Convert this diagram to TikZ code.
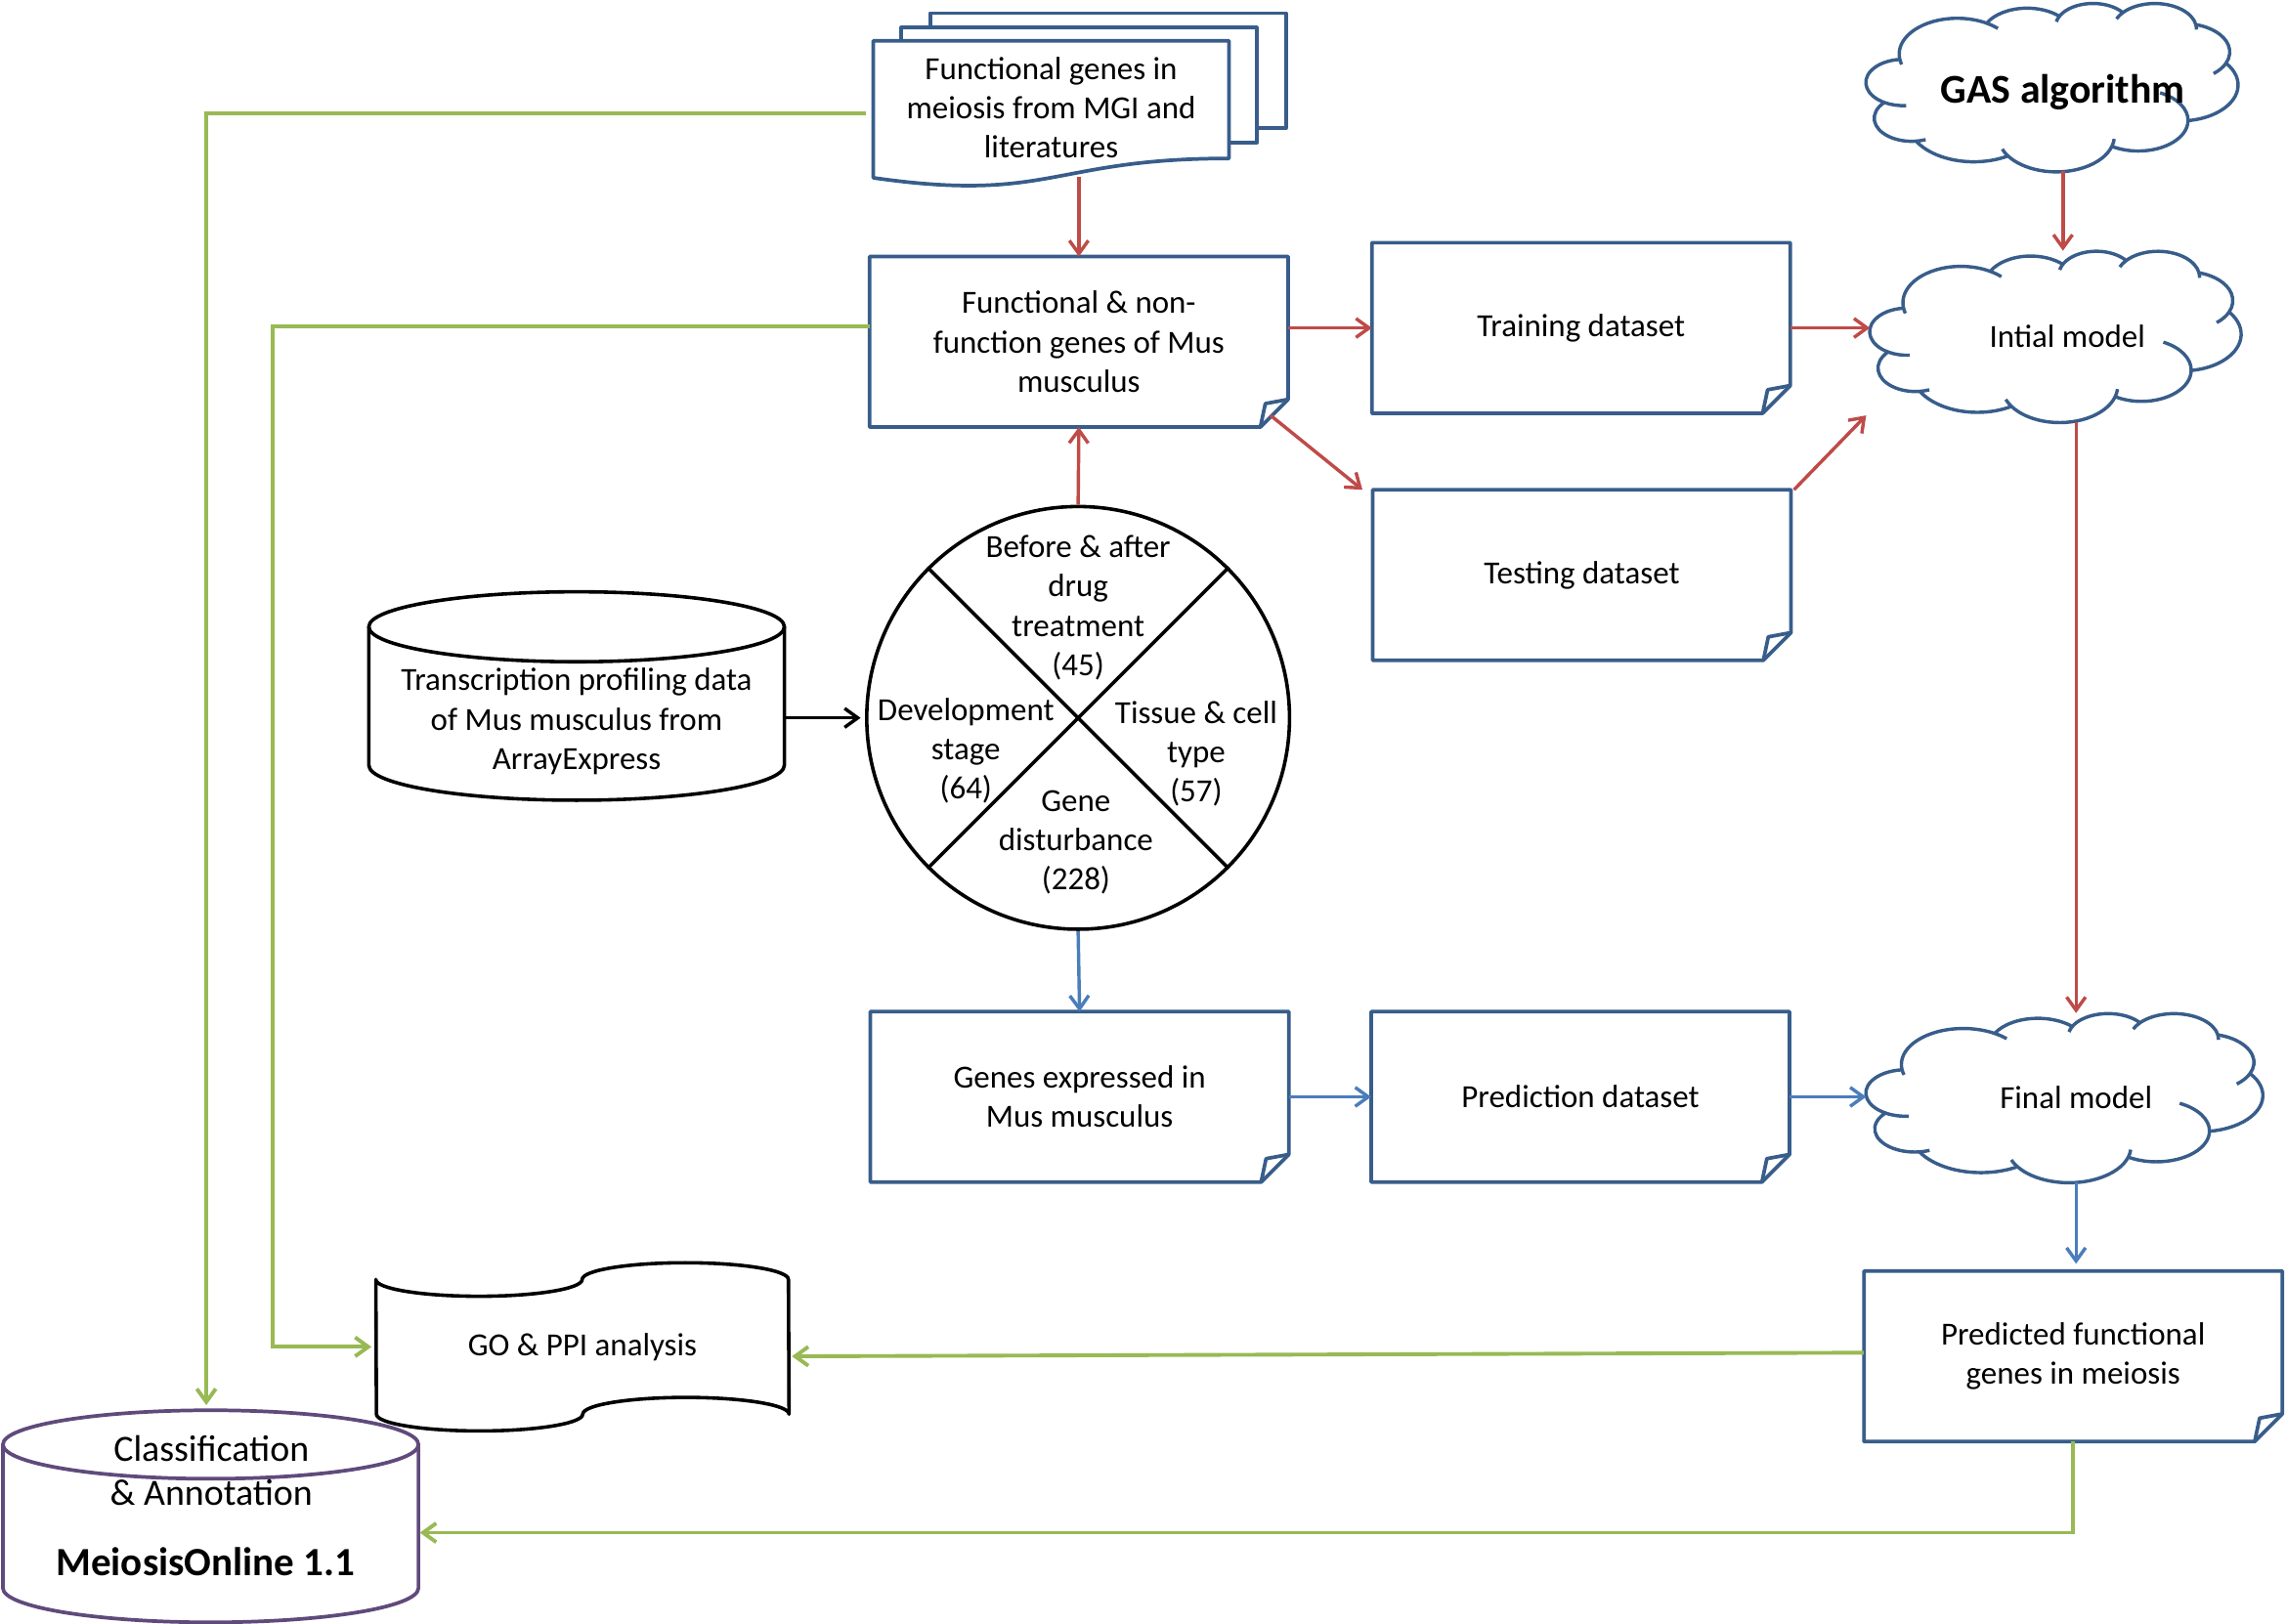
\documentclass[tikz,border=0pt]{standalone}
\usepackage{fontspec}
\setmainfont{Carlito}
\usetikzlibrary{arrows.meta}
\definecolor{boxblue}{HTML}{385D8A}
\definecolor{rline}{HTML}{BE4B48}
\definecolor{bline}{HTML}{4A7EBB}
\definecolor{gline}{HTML}{98B954}
\definecolor{pline}{HTML}{604A7B}
\newcommand{\fs}{\fontsize{22.1}{27}\selectfont}
\newcommand{\pptcloud}[5]{%
 \pgfmathsetmacro{\cloudsx}{#3/432}%
 \pgfmathsetmacro{\cloudsy}{#4/432}%
 \begin{scope}[shift={(#1,#2)}, x=\cloudsx pt, y=-\cloudsy pt]
  \draw[#5] (39.00,143.70)
   arc[start angle=-187.747, delta angle=128.117, x radius=67.53, y radius=91.90]
   arc[start angle=-152.030, delta angle=106.583, x radius=53.33, y radius=72.67]
   arc[start angle=-153.497, delta angle=116.179, x radius=43.65, y radius=59.45]
   arc[start angle=-139.721, delta angle=129.509, x radius=48.57, y radius=65.95]
   arc[start angle=-74.767, delta angle=97.980, x radius=53.33, y radius=72.73]
   arc[start angle=-37.513, delta angle=119.375, x radius=67.75, y radius=92.20]
   arc[start angle=0.460, delta angle=121.518, x radius=57.85, y radius=78.67]
   arc[start angle=16.843, delta angle=129.372, x radius=67.52, y radius=92.15]
   arc[start angle=58.985, delta angle=91.200, x radius=77.20, y radius=105.43]
   arc[start angle=83.306, delta angle=139.808, x radius=43.60, y radius=59.18]
   arc[start angle=120.360, delta angle=143.752, x radius=43.45, y radius=59.45]
   -- cycle;
  \draw[#5] (46.49,263.47) arc[start angle=85.546, delta angle=34.814, x radius=43.45, y radius=59.45]
   (69.15,350.90) arc[start angle=68.234, delta angle=15.072, x radius=43.60, y radius=59.18]
   (164.83,392.66) arc[start angle=146.215, delta angle=12.257, x radius=67.52, y radius=92.15]
   (288.24,349.03) arc[start angle=4.738, delta angle=12.105, x radius=67.52, y radius=92.15]
   (341.55,230.66) arc[start angle=-64.028, delta angle=64.488, x radius=57.85, y radius=78.67]
   (418.21,154.60) arc[start angle=23.213, delta angle=26.423, x radius=53.33, y radius=72.73]
   (383.21,55.76) arc[start angle=-10.212, delta angle=11.033, x radius=48.57, y radius=65.95]
   (290.94,40.92) arc[start angle=-156.278, delta angle=16.557, x radius=48.57, y radius=65.95]
   (220.99,48.20) arc[start angle=-167.726, delta angle=14.229, x radius=43.65, y radius=59.45]
   (140.06,52.03) arc[start angle=-59.630, delta angle=13.891, x radius=67.53, y radius=91.90]
   (41.27,157.89) arc[start angle=163.194, delta angle=9.059, x radius=67.53, y radius=91.90];
 \end{scope}}
\tikzset{
  txt/.style={font=\fs, align=center, inner sep=0pt},
  notebox/.style={txt, minimum width=287pt, minimum height=117pt, outer sep=0pt},
  frame/.style={inner sep=0pt, outer sep=0pt},
  outl/.style={draw=boxblue, line width=2.5pt, line join=round},
  cl/.style={draw=boxblue, line width=2.3pt, line join=round},
  kline/.style={draw=black, line width=2.4pt, line join=round},
  pl/.style={draw=pline, line width=2.5pt, line join=round},
  arrbase/.style={line width=2.3pt, -{Straight Barb[length=9pt,width=13pt]}},
  rarr/.style={arrbase, draw=rline},
  barr/.style={arrbase, draw=bline},
  garr/.style={arrbase, draw=gline, line width=2.6pt},
  karr/.style={arrbase, draw=black},
}
\begin{document}
\begin{tikzpicture}[x=1pt, y=-1pt]
\useasboundingbox (0,0) rectangle (1568,1114);

% document stack
\draw[outl, fill=white] (638,9) rectangle (882,88);
\draw[outl, fill=white] (618,19) rectangle (862,98);
\draw[outl, fill=white] (599,28) -- (843,28) -- (843,108.7)
  .. controls (721,108.7) and (721,139.4) .. (599,122) -- cycle;
\node[txt, minimum width=244pt, minimum height=94pt] (doc) at (721,74) {Functional genes in\\meiosis from MGI and\\literatures};

% note boxes
\node[notebox] (fn) at (740,234.5) {Functional \& non-\\function genes of Mus\\musculus};
\node[notebox] (train) at (1084.5,225) {Training dataset};
\node[notebox] (test) at (1085,394.5) {Testing dataset};
\node[notebox] (gexp) at (740.5,752.5) {Genes expressed in\\Mus musculus};
\node[notebox] (pred) at (1084,752.5) {Prediction dataset};
\node[notebox] (pfg) at (1422,930.5) {Predicted functional\\genes in meiosis};
\foreach \n in {fn,train,test,gexp,pred,pfg}{
  \draw[outl] (\n.north west) -- (\n.north east) -- ([yshift=19pt]\n.south east)
     -- ([xshift=-19pt]\n.south east) -- (\n.south west) -- cycle;
  \draw[outl] ([yshift=19pt]\n.south east) -- ([xshift=-15.6pt,yshift=16.1pt]\n.south east)
     .. controls ([xshift=-17.8pt,yshift=8pt]\n.south east) .. ([xshift=-19pt]\n.south east);
}

% circle
\node[circle, draw=black, line width=2.4pt, minimum size=290pt, inner sep=0pt] (circ) at (739.5,492.5) {};
\draw[kline] (circ.135) -- (circ.-45) (circ.45) -- (circ.225);
\node[txt] (c1) at (739.5,417) {Before \& after\\drug\\treatment\\(45)};
\node[txt] (c2) at (662.5,515) {Development\\stage\\(64)};
\node[txt] (c3) at (820.5,517) {Tissue \& cell\\type\\(57)};
\node[txt] (c4) at (738,578) {Gene\\disturbance\\(228)};

% transcription cylinder
\node[txt, minimum width=285pt] (tr) at (395.5,495) {Transcription profiling data\\of Mus musculus from\\ArrayExpress};
\draw[kline] (253,430) -- (253,525) arc[start angle=180, end angle=360, x radius=142.5pt, y radius=24pt] -- (538,430);
\draw[kline] (395.5,430) ellipse[x radius=142.5pt, y radius=24pt];

% GO & PPI punched tape
\node[txt, minimum width=283pt, minimum height=92pt] (go) at (399.5,924) {GO \& PPI analysis};
\draw[kline] (go.north west)
  arc[start angle=180, end angle=360, x radius=70.75pt, y radius=11.5pt]
  arc[start angle=180, end angle=0, x radius=70.75pt, y radius=11.5pt]
  -- (go.south east)
  arc[start angle=0, end angle=180, x radius=70.75pt, y radius=11.5pt]
  arc[start angle=0, end angle=-180, x radius=70.75pt, y radius=11.5pt]
  -- cycle;

% MeiosisOnline cylinder
\node[frame, minimum width=285pt, minimum height=146pt] (mo) at (144.5,1040) {};
\draw[pl] (2,991) -- (2,1089.5) arc[start angle=180, end angle=360, x radius=142.5pt, y radius=23.5pt] -- (287,991);
\draw[pl] (144.5,991) ellipse[x radius=142.5pt, y radius=23.5pt];
\node[txt, font=\fontsize{25.4}{30.5}\selectfont] (motx) at (145,1009) {Classification\\\& Annotation};
\node[inner sep=0pt, font=\bfseries\fontsize{27.5}{33}\selectfont] (mobd) at (141,1071.5) {MeiosisOnline 1.1};

% clouds
\pptcloud{1280}{2}{255}{115.5}{cl}
\pptcloud{1282.6}{172}{254.5}{117.5}{cl}
\pptcloud{1280}{695}{272}{116}{cl}
\node[frame, minimum width=255pt, minimum height=115.5pt] (gas) at (1407.5,59.75) {};
\node[frame, minimum width=254.5pt, minimum height=117.5pt] (init) at (1409.85,230.75) {};
\node[frame, minimum width=272pt, minimum height=116pt] (final) at (1416,753) {};
\node[inner sep=0pt, font=\bfseries\fontsize{28}{34}\selectfont] (gastx) at (1415,63) {GAS algorithm};
\node[txt] (inittx) at (1418,231) {Intial model};
\node[txt] (finaltx) at (1424,753) {Final model};
\coordinate (initin) at (1280,285);

% red connectors
\draw[rarr] (doc.south -| fn.north) -- (fn.north);
\draw[rarr] (fn.east |- train.west) -- (train.west);
\draw[rarr] ([xshift=-12pt,yshift=8pt]fn.south east) -- ([xshift=-7pt]test.north west);
\draw[rarr] (train.east) -- (train.east -| init.west);
\draw[rarr] ([xshift=2pt]test.north east) -- (initin);
\draw[rarr] (gas.south -| gastx) -- (init.north -| gastx);
\draw[rarr] (init.south -| finaltx) -- (final.north -| finaltx);
\draw[rarr] (circ.north) -- (fn.south);

% blue connectors
\draw[barr] (circ.south) -- (gexp.north);
\draw[barr] (gexp.east) -- (pred.west);
\draw[barr] (pred.east) -- (pred.east -| final.west);
\draw[barr, shorten >=5pt] (final.south -| finaltx) -- (pfg.north -| finaltx);

% black connector
\draw[karr, shorten >=3pt] (tr.east |- circ.west) -- (circ.west);

% green connectors
\draw[garr, shorten >=3pt] ([xshift=-5pt,yshift=-4pt]doc.west) -| ([xshift=-3pt]mo.north);
\draw[garr, shorten >=3pt] ([yshift=10.5pt]fn.west) -| ([xshift=-71pt]go.west) -- (go.west);
\draw[garr, shorten >=2pt] ([yshift=2.5pt]pfg.west) -- (go.east |- pfg.west);
\draw[garr, shorten >=1pt] (pfg.south) |- ([yshift=-11.5pt]mo.east);
\end{tikzpicture}
\end{document}
